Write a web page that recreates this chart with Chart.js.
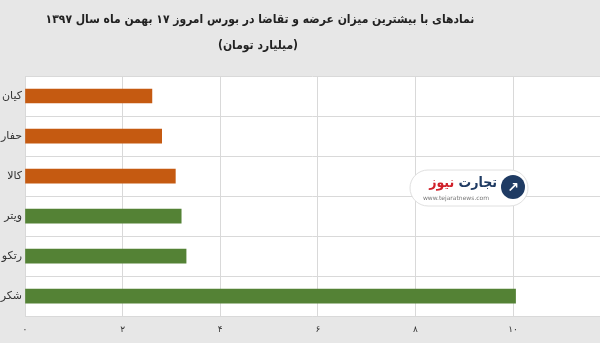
<!DOCTYPE html>
<html>
<head>
<meta charset="utf-8">
<script src="https://cdn.jsdelivr.net/npm/chart.js@4.4.1/dist/chart.umd.min.js"></script>
<style>
  html, body { margin: 0; padding: 0; background: #e7e7e7; }
  #wrap { width: 600px; height: 343px; }
</style>
</head>
<body>
<div id="wrap"><canvas id="chart"></canvas></div>
<script>
const titleLines = ['نمادهای با بیشترین میزان عرضه و تقاضا در بورس امروز ۱۷ بهمن ماه سال ۱۳۹۷', '(میلیارد تومان)'];
const symbols = ['کیان', 'حفار', 'کالا', 'ویتر', 'رتکو', 'شکر'];
const values = [2.6, 2.8, 3.08, 3.2, 3.3, 10.05];
const barColors = ['#c55a11', '#c55a11', '#c55a11', '#548235', '#548235', '#548235'];
const xTicks = [0, 2, 4, 6, 8, 10];

const faDigits = '۰۱۲۳۴۵۶۷۸۹';
function toFa(n) {
  return String(n).replace(/[0-9]/g, (d) => faDigits[d]);
}

const whiteArea = {
  id: 'whiteArea',
  beforeDraw(chart) {
    const { ctx, chartArea } = chart;
    ctx.save();
    ctx.fillStyle = '#ffffff';
    ctx.fillRect(chartArea.left, chartArea.top, chartArea.right - chartArea.left, chartArea.bottom - chartArea.top);
    ctx.restore();
  },
};

// title sits left of the page centre in the original, so it is drawn by hand
const rtlTitle = {
  id: 'rtlTitle',
  afterDraw(chart) {
    const { ctx } = chart;
    ctx.save();
    ctx.direction = 'rtl';
    ctx.textAlign = 'center';
    ctx.textBaseline = 'middle';
    ctx.fillStyle = '#222222';
    ctx.font = 'bold 12px "DejaVu Sans Condensed"';
    ctx.fillText(titleLines[0], 260, 20);
    ctx.fillText(titleLines[1], 258, 46);
    ctx.restore();
  },
};

// category names drawn rtl so the persian letters join properly
const rtlLabels = {
  id: 'rtlLabels',
  afterDraw(chart) {
    const { ctx } = chart;
    const yScale = chart.scales.y;
    ctx.save();
    ctx.direction = 'rtl';
    ctx.textAlign = 'right';
    ctx.textBaseline = 'middle';
    ctx.font = '11px "DejaVu Sans"';
    ctx.fillStyle = '#333333';
    yScale.ticks.forEach((tick, i) => {
      ctx.fillText(symbols[tick.value], yScale.right - 3, yScale.getPixelForTick(i));
    });
    ctx.restore();
  },
};

// watermark of the site
const logo = {
  id: 'logo',
  afterDatasetsDraw(chart) {
    const { ctx } = chart;
    ctx.save();
    ctx.fillStyle = '#ffffff';
    ctx.strokeStyle = '#e0e0e0';
    ctx.beginPath();
    ctx.roundRect(410, 170, 118, 36, 18);
    ctx.fill();
    ctx.stroke();
    ctx.beginPath();
    ctx.arc(513, 187, 12, 0, Math.PI * 2);
    ctx.fillStyle = '#1f3b63';
    ctx.fill();
    ctx.fillStyle = '#ffffff';
    ctx.font = 'bold 14px "DejaVu Sans"';
    ctx.textAlign = 'center';
    ctx.textBaseline = 'middle';
    ctx.fillText('↗', 513, 188);
    ctx.direction = 'rtl';
    ctx.textAlign = 'right';
    ctx.font = 'bold 14px "DejaVu Sans Condensed"';
    ctx.fillStyle = '#1f3b63';
    ctx.fillText('تجارت', 497, 183);
    const w = ctx.measureText('تجارت ').width;
    ctx.fillStyle = '#d0202a';
    ctx.fillText('نیوز', 497 - w, 183);
    ctx.direction = 'ltr';
    ctx.textAlign = 'center';
    ctx.font = '6px "DejaVu Sans"';
    ctx.fillStyle = '#777777';
    ctx.fillText('www.tejaratnews.com', 456, 198);
    ctx.restore();
  },
};

new Chart(document.getElementById('chart'), {
  type: 'bar',
  data: {
    labels: symbols,
    datasets: [{
      data: values,
      backgroundColor: barColors,
      barThickness: 14,
    }],
  },
  options: {
    indexAxis: 'y',
    responsive: true,
    maintainAspectRatio: false,
    animation: false,
    layout: { padding: { top: 76, bottom: 0, left: 0, right: 0 } },
    plugins: {
      legend: { display: false },
      tooltip: { enabled: false },
      title: { display: false },
    },
    scales: {
      x: {
        min: 0,
        max: 11.78,
        afterBuildTicks(scale) {
          scale.ticks = xTicks.map((v) => ({ value: v }));
        },
        grid: { color: '#d9d9d9', drawTicks: false },
        border: { display: false },
        ticks: {
          color: '#333333',
          font: { family: '"DejaVu Sans"', size: 9 },
          padding: 8,
          callback: (v) => toFa(v),
        },
      },
      y: {
        afterFit(scale) {
          scale.width = 25;
        },
        grid: { color: '#d9d9d9', offset: true, drawTicks: false },
        border: { display: false },
        ticks: { display: false },
      },
    },
  },
  plugins: [whiteArea, rtlTitle, rtlLabels, logo],
});
</script>
</body>
</html>
